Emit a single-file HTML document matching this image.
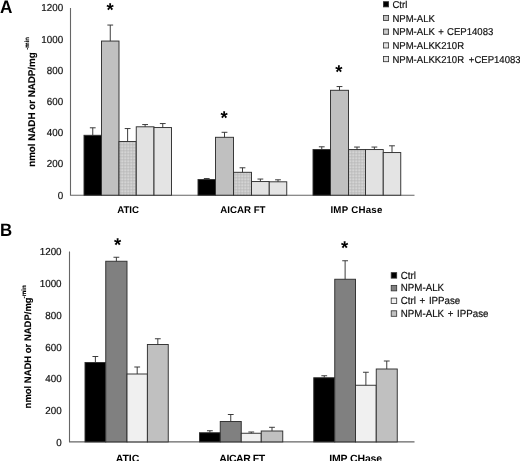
<!DOCTYPE html>
<html lang="en"><head><meta charset="utf-8"><title>Figure</title>
<style>html,body{margin:0;padding:0;background:#fff}body{width:520px;height:461px;overflow:hidden}svg{display:block;filter:blur(0.3px)}text{text-rendering:geometricPrecision;font-family:"Liberation Sans",Arial,sans-serif;fill:#111;stroke:#111;stroke-width:0.2px}.b{font-weight:bold;fill:#000;stroke:none}.yl{stroke:#000;stroke-width:0.15px}</style></head><body>
<svg width="520" height="461" viewBox="0 0 520 461">
<defs><pattern id="grid" width="3" height="3" patternUnits="userSpaceOnUse"><rect width="3" height="3" fill="#eeeeee"/><path d="M0 0.4H3M0 1.9H3M0.4 0V3M1.9 0V3" stroke="#b4b4b4" stroke-width="0.7"/></pattern></defs>
<rect width="520" height="461" fill="#fff"/>
<path d="M70.5 7.9V195.2H414.5" stroke="#666" stroke-width="1.1" fill="none"/>
<text transform="translate(63.2 198.50) scale(0.965 1)" font-size="10.2" text-anchor="end">0</text>
<text transform="translate(63.2 167.33) scale(0.965 1)" font-size="10.2" text-anchor="end">200</text>
<text transform="translate(63.2 136.16) scale(0.965 1)" font-size="10.2" text-anchor="end">400</text>
<text transform="translate(63.2 104.99) scale(0.965 1)" font-size="10.2" text-anchor="end">600</text>
<text transform="translate(63.2 73.82) scale(0.965 1)" font-size="10.2" text-anchor="end">800</text>
<text transform="translate(63.2 42.65) scale(0.965 1)" font-size="10.2" text-anchor="end">1000</text>
<text transform="translate(63.2 11.48) scale(0.965 1)" font-size="10.2" text-anchor="end">1200</text>
<rect x="84" y="135.3" width="17.50" height="59.90" fill="#000" stroke="#303030" stroke-width="0.95"/>
<path d="M92.75 135.3V127.8M89.85 127.8H95.65" stroke="#333" stroke-width="0.95" fill="none"/>
<rect x="101.5" y="41.05" width="17.50" height="154.15" fill="#c0c0c0" stroke="#303030" stroke-width="0.95"/>
<path d="M110.25 41.05V25.05M107.35 25.05H113.15" stroke="#333" stroke-width="0.95" fill="none"/>
<rect x="119" y="141.55" width="17.25" height="53.65" fill="url(#grid)" stroke="#303030" stroke-width="0.95"/>
<path d="M127.62 141.55V128.55M124.72 128.55H130.53" stroke="#333" stroke-width="0.95" fill="none"/>
<rect x="136.25" y="126.8" width="17.75" height="68.40" fill="#e2e2e2" stroke="#303030" stroke-width="0.95"/>
<path d="M145.12 126.8V124.55M142.22 124.55H148.03" stroke="#333" stroke-width="0.95" fill="none"/>
<rect x="154" y="127.55" width="17.50" height="67.65" fill="#e4e4e4" stroke="#303030" stroke-width="0.95"/>
<path d="M162.75 127.55V123.55M159.85 123.55H165.65" stroke="#333" stroke-width="0.95" fill="none"/>
<rect x="198" y="179.55" width="17.50" height="15.65" fill="#000" stroke="#303030" stroke-width="0.95"/>
<path d="M206.75 179.55V178.55M203.85 178.55H209.65" stroke="#333" stroke-width="0.95" fill="none"/>
<rect x="215.5" y="137.3" width="18.00" height="57.90" fill="#c0c0c0" stroke="#303030" stroke-width="0.95"/>
<path d="M224.50 137.3V132.3M221.60 132.3H227.40" stroke="#333" stroke-width="0.95" fill="none"/>
<rect x="233.5" y="172.3" width="18.00" height="22.90" fill="url(#grid)" stroke="#303030" stroke-width="0.95"/>
<path d="M242.50 172.3V167.8M239.60 167.8H245.40" stroke="#333" stroke-width="0.95" fill="none"/>
<rect x="251.5" y="181.55" width="17.75" height="13.65" fill="#e2e2e2" stroke="#303030" stroke-width="0.95"/>
<path d="M260.38 181.55V179.05M257.48 179.05H263.27" stroke="#333" stroke-width="0.95" fill="none"/>
<rect x="269.25" y="181.8" width="17.50" height="13.40" fill="#e4e4e4" stroke="#303030" stroke-width="0.95"/>
<path d="M278.00 181.8V179.8M275.10 179.8H280.90" stroke="#333" stroke-width="0.95" fill="none"/>
<rect x="313" y="149.55" width="17.50" height="45.65" fill="#000" stroke="#303030" stroke-width="0.95"/>
<path d="M321.75 149.55V146.8M318.85 146.8H324.65" stroke="#333" stroke-width="0.95" fill="none"/>
<rect x="330.5" y="90.3" width="18.00" height="104.90" fill="#c0c0c0" stroke="#303030" stroke-width="0.95"/>
<path d="M339.50 90.3V86.55M336.60 86.55H342.40" stroke="#333" stroke-width="0.95" fill="none"/>
<rect x="348.5" y="149.55" width="17.00" height="45.65" fill="url(#grid)" stroke="#303030" stroke-width="0.95"/>
<path d="M357.00 149.55V147.05M354.10 147.05H359.90" stroke="#333" stroke-width="0.95" fill="none"/>
<rect x="365.5" y="149.55" width="17.75" height="45.65" fill="#e2e2e2" stroke="#303030" stroke-width="0.95"/>
<path d="M374.38 149.55V147.05M371.48 147.05H377.27" stroke="#333" stroke-width="0.95" fill="none"/>
<rect x="383.25" y="152.55" width="17.50" height="42.65" fill="#e4e4e4" stroke="#303030" stroke-width="0.95"/>
<path d="M392.00 152.55V145.8M389.10 145.8H394.90" stroke="#333" stroke-width="0.95" fill="none"/>
<text class="b" x="110.05" y="16.41" font-size="18.5" text-anchor="middle">*</text>
<text class="b" x="224" y="123.91" font-size="18.5" text-anchor="middle">*</text>
<text class="b" x="338.95" y="78.16" font-size="18.5" text-anchor="middle">*</text>
<text class="b" x="128.1" y="212.8" font-size="9.7" text-anchor="middle">ATIC</text>
<text class="b" x="242.9" y="212.8" font-size="9.7" text-anchor="middle">AICAR FT</text>
<text class="b" x="356.5" y="212.8" font-size="9.7" text-anchor="middle" letter-spacing="0.25">IMP CHase</text>
<text class="b" transform="translate(0.1 12.9) scale(0.955 1)" font-size="18">A</text>
<text class="b yl" transform="translate(34.9 166.8) rotate(-90)" font-size="9.78">nmol NADH or NADP/mg</text>
<text class="b yl" transform="translate(29.3 49.8) rotate(-90)" font-size="6.1">-min</text>
<rect x="383.4" y="1.70" width="5.2" height="5.2" fill="#000" stroke="#303030" stroke-width="0.8"/>
<text transform="translate(392.4 7.80) scale(0.955 1)" font-size="10" word-spacing="0.7">Ctrl</text>
<rect x="383.4" y="15.40" width="5.2" height="5.2" fill="#c0c0c0" stroke="#303030" stroke-width="0.8"/>
<text transform="translate(392.4 21.50) scale(0.955 1)" font-size="10" word-spacing="0.7">NPM-ALK</text>
<rect x="383.4" y="29.10" width="5.2" height="5.2" fill="url(#grid)" stroke="#303030" stroke-width="0.8"/>
<text transform="translate(392.4 35.20) scale(0.955 1)" font-size="10" word-spacing="0.7">NPM-ALK + CEP14083</text>
<rect x="383.4" y="42.80" width="5.2" height="5.2" fill="#e2e2e2" stroke="#303030" stroke-width="0.8"/>
<text transform="translate(392.4 48.90) scale(0.955 1)" font-size="10" word-spacing="0.7">NPM-ALKK210R</text>
<rect x="383.4" y="56.50" width="5.2" height="5.2" fill="#e4e4e4" stroke="#303030" stroke-width="0.8"/>
<text transform="translate(392.4 62.60) scale(0.955 1)" font-size="10" word-spacing="2.2">NPM-ALKK210R +CEP14083</text>
<path d="M69.5 251.5V441.9H414.5" stroke="#666" stroke-width="1.1" fill="none"/>
<text transform="translate(61.6 446.00) scale(0.965 1)" font-size="10.2" text-anchor="end">0</text>
<text transform="translate(61.6 414.20) scale(0.965 1)" font-size="10.2" text-anchor="end">200</text>
<text transform="translate(61.6 382.40) scale(0.965 1)" font-size="10.2" text-anchor="end">400</text>
<text transform="translate(61.6 350.60) scale(0.965 1)" font-size="10.2" text-anchor="end">600</text>
<text transform="translate(61.6 318.80) scale(0.965 1)" font-size="10.2" text-anchor="end">800</text>
<text transform="translate(61.6 287.00) scale(0.965 1)" font-size="10.2" text-anchor="end">1000</text>
<text transform="translate(61.6 255.20) scale(0.965 1)" font-size="10.2" text-anchor="end">1200</text>
<rect x="85" y="362.5" width="20.75" height="79.40" fill="#000" stroke="#303030" stroke-width="0.95"/>
<path d="M95.38 362.5V356.5M92.47 356.5H98.28" stroke="#333" stroke-width="0.95" fill="none"/>
<rect x="105.75" y="261.25" width="21.25" height="180.65" fill="#808080" stroke="#303030" stroke-width="0.95"/>
<path d="M116.38 261.25V257.25M113.47 257.25H119.28" stroke="#333" stroke-width="0.95" fill="none"/>
<rect x="127" y="374.0" width="20.40" height="67.90" fill="#f0f0f0" stroke="#303030" stroke-width="0.95"/>
<path d="M137.20 374.0V367.0M134.30 367.0H140.10" stroke="#333" stroke-width="0.95" fill="none"/>
<rect x="147.4" y="344.5" width="20.85" height="97.40" fill="#c0c0c0" stroke="#303030" stroke-width="0.95"/>
<path d="M157.82 344.5V338.75M154.92 338.75H160.72" stroke="#333" stroke-width="0.95" fill="none"/>
<rect x="199.5" y="432.75" width="20.75" height="9.15" fill="#000" stroke="#303030" stroke-width="0.95"/>
<path d="M209.88 432.75V430.75M206.97 430.75H212.78" stroke="#333" stroke-width="0.95" fill="none"/>
<rect x="220.25" y="421.5" width="21.00" height="20.40" fill="#808080" stroke="#303030" stroke-width="0.95"/>
<path d="M230.75 421.5V414.5M227.85 414.5H233.65" stroke="#333" stroke-width="0.95" fill="none"/>
<rect x="241.25" y="433.25" width="20.00" height="8.65" fill="#f0f0f0" stroke="#303030" stroke-width="0.95"/>
<path d="M251.25 433.25V432.0M248.35 432.0H254.15" stroke="#333" stroke-width="0.95" fill="none"/>
<rect x="261.25" y="431.0" width="21.50" height="10.90" fill="#c0c0c0" stroke="#303030" stroke-width="0.95"/>
<path d="M272.00 431.0V427.3M269.10 427.3H274.90" stroke="#333" stroke-width="0.95" fill="none"/>
<rect x="313.75" y="377.75" width="21.00" height="64.15" fill="#000" stroke="#303030" stroke-width="0.95"/>
<path d="M324.25 377.75V375.75M321.35 375.75H327.15" stroke="#333" stroke-width="0.95" fill="none"/>
<rect x="334.75" y="279.25" width="20.75" height="162.65" fill="#808080" stroke="#303030" stroke-width="0.95"/>
<path d="M345.12 279.25V260.75M342.23 260.75H348.02" stroke="#333" stroke-width="0.95" fill="none"/>
<rect x="355.5" y="385.25" width="20.75" height="56.65" fill="#f0f0f0" stroke="#303030" stroke-width="0.95"/>
<path d="M365.88 385.25V372.25M362.98 372.25H368.77" stroke="#333" stroke-width="0.95" fill="none"/>
<rect x="376.25" y="369.0" width="21.00" height="72.90" fill="#c0c0c0" stroke="#303030" stroke-width="0.95"/>
<path d="M386.75 369.0V361.0M383.85 361.0H389.65" stroke="#333" stroke-width="0.95" fill="none"/>
<text class="b" x="117.55" y="251.01" font-size="18.5" text-anchor="middle">*</text>
<text class="b" x="344.7" y="253.61" font-size="18.5" text-anchor="middle">*</text>
<text class="b" x="127.5" y="462" font-size="10.5" text-anchor="middle" letter-spacing="0">ATIC</text>
<text class="b" x="242" y="462" font-size="10.5" text-anchor="middle" letter-spacing="-0.45">AICAR FT</text>
<text class="b" x="355.6" y="462" font-size="10.5" text-anchor="middle" letter-spacing="-0.15">IMP CHase</text>
<text class="b" transform="translate(0 236.2) scale(0.94 1)" font-size="17.9">B</text>
<text class="b yl" transform="translate(30.5 408.4) rotate(-90)" font-size="9.48">nmol NADH or NADP/mg</text>
<text class="b yl" transform="translate(25.8 298.4) rotate(-90)" font-size="6.3">-min</text>
<rect x="391.2" y="272.65" width="5.5" height="5.5" fill="#000" stroke="#303030" stroke-width="0.8"/>
<text transform="translate(400.8 278.50) scale(0.945 1)" font-size="10.3" word-spacing="1.0">Ctrl</text>
<rect x="391.2" y="285.37" width="5.5" height="5.5" fill="#808080" stroke="#303030" stroke-width="0.8"/>
<text transform="translate(400.8 291.22) scale(0.945 1)" font-size="10.3" word-spacing="1.0">NPM-ALK</text>
<rect x="391.2" y="298.09" width="5.5" height="5.5" fill="#f0f0f0" stroke="#303030" stroke-width="0.8"/>
<text transform="translate(400.8 303.94) scale(0.945 1)" font-size="10.3" word-spacing="1.0">Ctrl + IPPase</text>
<rect x="391.2" y="310.81" width="5.5" height="5.5" fill="#c0c0c0" stroke="#303030" stroke-width="0.8"/>
<text transform="translate(400.8 316.66) scale(0.945 1)" font-size="10.3" word-spacing="1.0">NPM-ALK + IPPase</text>
</svg></body></html>
